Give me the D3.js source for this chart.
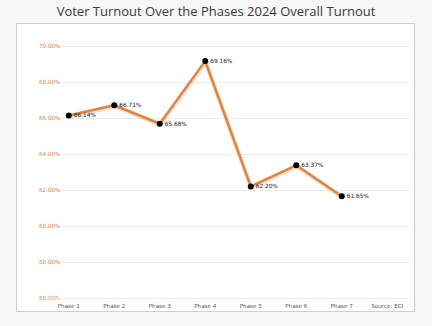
<!DOCTYPE html>
<html><head><meta charset="utf-8">
<script src="https://cdn.jsdelivr.net/npm/d3@7"></script>
<style>body{margin:0;background:#f7f7f8;}svg{display:block;}</style>
</head><body>
<svg id="c" width="432" height="326"></svg>
<script>
const categories = ["Phase 1","Phase 2","Phase 3","Phase 4","Phase 5","Phase 6","Phase 7","Source: ECI"];
const phases = ["Phase 1","Phase 2","Phase 3","Phase 4","Phase 5","Phase 6","Phase 7"];
const turnout = [66.14, 66.71, 65.68, 69.16, 62.20, 63.37, 61.65];
const yTicks = [56,58,60,62,64,66,68,70];
const title = "Voter Turnout Over the Phases 2024 Overall Turnout";

const svg = d3.select("#c");
svg.append("rect").attr("x",16.5).attr("y",23.5).attr("width",398).attr("height",288)
  .attr("fill","#fff").attr("stroke","#cfcfcf").attr("stroke-width",1);
svg.append("text").attr("x",216).attr("y",16).attr("text-anchor","middle")
  .attr("font-family","Open Sans").attr("font-weight",400).attr("font-size",13).attr("fill","#3a3a3a").text(title);

const x = d3.scaleBand().domain(categories).range([46,410]);
const y = d3.scaleLinear().domain([56,70]).range([298,46]);

const gy = svg.append("g").attr("transform","translate(410,0)")
  .call(d3.axisLeft(y).tickValues(yTicks).tickSize(364).tickFormat(d=>d.toFixed(2)+"%"));
gy.select(".domain").remove();
gy.selectAll(".tick line").attr("stroke","#ececec");
gy.selectAll(".tick text").attr("x",-371).attr("text-anchor","start").attr("fill","#e8843c")
  .attr("font-family","DejaVu Sans").attr("font-size",5.6);

const gx = svg.append("g").attr("transform","translate(0,298)")
  .call(d3.axisBottom(x).tickSize(0).tickPadding(6));
gx.select(".domain").attr("stroke","#ececec");
gx.selectAll(".tick text").attr("fill","#555").attr("font-family","DejaVu Sans").attr("font-size",5.6);

const cx = d => x(d) + x.bandwidth()/2;
const line = d3.line().x((d,i)=>cx(phases[i])).y(d=>y(d));
svg.append("path").datum(turnout).attr("d",line).attr("fill","none")
  .attr("stroke","#b8652a").attr("stroke-opacity",0.2).attr("stroke-width",4.5).attr("transform","translate(0.5,1)");
svg.append("path").datum(turnout).attr("d",line).attr("fill","none")
  .attr("stroke","#e3823f").attr("stroke-width",2.5).attr("stroke-linejoin","round");
svg.selectAll("circle.pt").data(turnout).join("circle").attr("class","pt")
  .attr("cx",(d,i)=>cx(phases[i])).attr("cy",d=>y(d)).attr("r",3).attr("fill","#000");
svg.selectAll("text.lbl").data(turnout).join("text").attr("class","lbl")
  .attr("x",(d,i)=>cx(phases[i])+5).attr("y",d=>y(d)+2)
  .attr("font-family","DejaVu Sans").attr("font-size",5.8).attr("fill","#222")
  .text(d=>d.toFixed(2)+"%");
</script>
</body></html>
